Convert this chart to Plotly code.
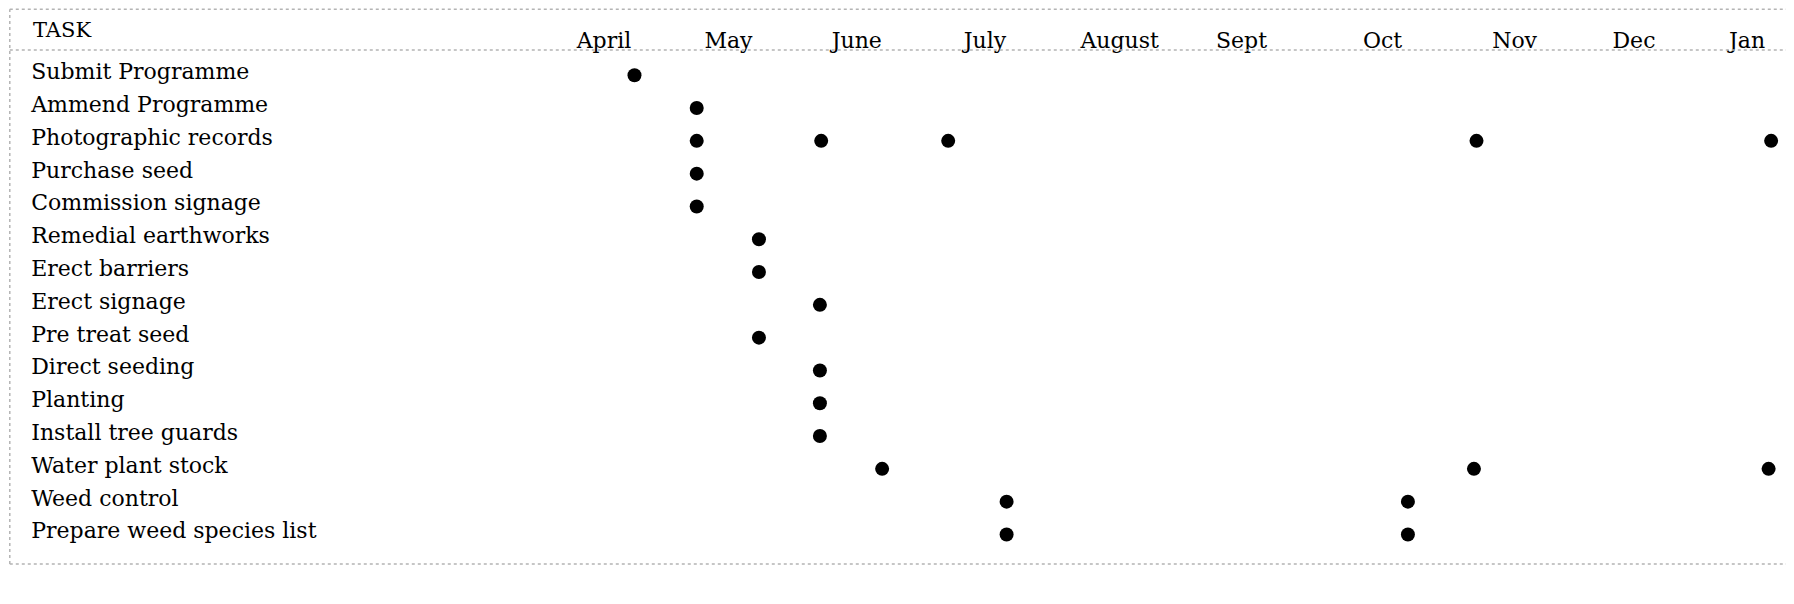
import plotly.graph_objects as go

# Mois (en-tête) et leur position sur l'axe des mois
months = ['April', 'May', 'June', 'July', 'August', 'Sept', 'Oct', 'Nov', 'Dec', 'Jan']
month_pos = [4.5, 5.48, 6.49, 7.5, 8.56, 9.52, 10.63, 11.67, 12.61, 13.5]

# Liste des tâches, dans l'ordre du tableau
tasks = ['Submit Programme', 'Ammend Programme', 'Photographic records', 'Purchase seed',
         'Commission signage', 'Remedial earthworks', 'Erect barriers', 'Erect signage',
         'Pre treat seed', 'Direct seeding', 'Planting', 'Install tree guards',
         'Water plant stock', 'Weed control', 'Prepare weed species list']

# Position (en mois) de chaque point, tâche par tâche
task_dots = [
    [4.74],
    [5.23],
    [5.23, 6.21, 7.21, 11.37, 13.69],
    [5.23],
    [5.23],
    [5.72],
    [5.72],
    [6.20],
    [5.72],
    [6.20],
    [6.20],
    [6.20],
    [6.69, 11.35, 13.67],
    [7.67, 10.83],
    [7.67, 10.83],
]

police = 'DejaVu Serif'
taille = 22
gris = '#b4b4b4'

# on aplatit les points
x_pts = []
y_pts = []
for i, pts in enumerate(task_dots):
    for p in pts:
        x_pts.append(p)
        y_pts.append(i)

fig = go.Figure()

# noms des tâches
fig.add_trace(go.Scatter(x=[-0.01] * len(tasks), y=[i - 0.05 for i in range(len(tasks))], text=tasks,
                         mode='text', textposition='middle right',
                         textfont=dict(family=police, size=taille, color='black'),
                         hoverinfo='skip', showlegend=False))

# en-tête des mois
fig.add_trace(go.Scatter(x=month_pos, y=[-1.0] * len(months), text=months,
                         mode='text', textposition='middle center',
                         textfont=dict(family=police, size=taille, color='black'),
                         hoverinfo='skip', showlegend=False))

# points
fig.add_trace(go.Scatter(x=x_pts, y=y_pts, mode='markers',
                         marker=dict(color='black', size=14, symbol='circle'),
                         showlegend=False))

fig.add_annotation(x=-0.01, y=-1.38, text='TASK', showarrow=False, xanchor='left',
                   font=dict(family=police, size=taille - 1, color='black'))

# bordures pointillées façon scan
lignes = [(0.001, 0.998, 1, 0.998), (0.001, 0.9295, 1, 0.9295),
          (0.001, 0.067, 1, 0.067), (0.001, 0.067, 0.001, 0.998)]
for x0, y0, x1, y1 in lignes:
    fig.add_shape(type='line', xref='paper', yref='paper', x0=x0, y0=y0, x1=x1, y1=y1,
                  line=dict(color=gris, width=1.5, dash='dot'))

# la page a une marge de 8 px : la figure est réduite d'autant
fig.update_layout(width=1786, height=596, margin=dict(l=0, r=0, t=0, b=0),
                  plot_bgcolor='white', paper_bgcolor='white',
                  xaxis=dict(range=[-0.193, 13.87], visible=False),
                  yaxis=dict(range=[16.12, -2.05], visible=False))

fig.write_html("out.html")
